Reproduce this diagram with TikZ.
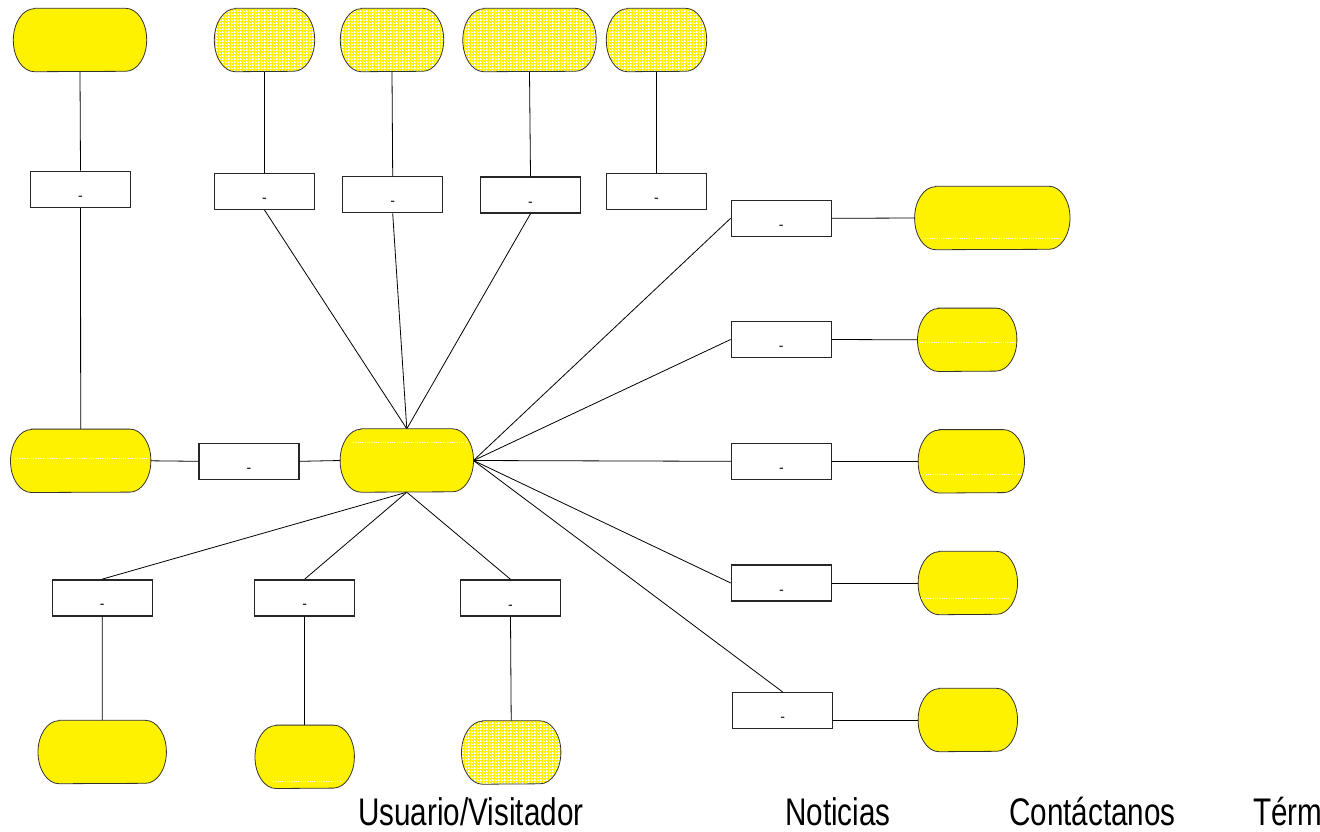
\documentclass[tikz,border=0pt]{standalone}
\usepackage{fontspec}
\setmainfont{Liberation Sans}
\newfontfamily\capfont{Liberation Sans}[FakeStretch=0.77]
\usetikzlibrary{patterns}

% fine white dot mesh laid over the yellow fill
\pgfdeclarepatternformonly{meshdots}{\pgfpointorigin}{\pgfpoint{3pt}{3pt}}{\pgfpoint{3pt}{3pt}}{%
  \pgfpathrectangle{\pgfpointorigin}{\pgfpoint{1.1pt}{1.1pt}}%
  \pgfpathrectangle{\pgfpoint{1.5pt}{0pt}}{\pgfpoint{1.1pt}{1.1pt}}%
  \pgfpathrectangle{\pgfpoint{0pt}{1.5pt}}{\pgfpoint{1.1pt}{1.1pt}}%
  \pgfusepath{fill}}

% terminal outline with elliptic ends, drawn around an anchor node
\newcommand\capsule[2]{%
  \path[#1] ([xshift=21pt]#2.north west) -- ([xshift=-21pt]#2.north east)
    arc[start angle=90,end angle=-90,x radius=21pt,y radius=31.5pt]
    -- ([xshift=21pt]#2.south west)
    arc[start angle=270,end angle=90,x radius=21pt,y radius=31.5pt] -- cycle;}

% white box with its small dash label
\newcommand\tagbox[3]{%
  \node[tag] (#1) at (#2,#3) {};
  \node[minuslabel] (#1-t) at ([yshift=-11pt]#1.center) {-};}

\begin{document}
\begin{tikzpicture}[x=1pt,y=1pt,
  term/.style={rectangle,inner sep=0pt,minimum height=63pt,minimum width=#1},
  tag/.style={rectangle,draw=black!85,line width=1.4pt,fill=white,
    minimum width=100pt,minimum height=36pt,inner sep=0pt},
  minuslabel/.style={font=\fontsize{14}{14}\selectfont,anchor=base,inner sep=0pt},
  link/.style={draw=black,line width=0.8pt},
  plain/.style={draw=black!80,line width=0.8pt,fill=yellow},
  mesh/.style={draw=black!80,line width=0.8pt,preaction={fill=yellow},
    pattern=meshdots,pattern color=white},
  seam/.style={draw=white,line width=0.7pt,dash pattern=on 1pt off 1.3pt},
  caption/.style={font=\capfont\fontsize{38.5}{40}\selectfont,anchor=base west,inner sep=0pt}]

\useasboundingbox (0,0) rectangle (1320,-831);

% anchor nodes of the terminals
\node[term=133] (T1) at (80,-40) {};
\node[term=100] (T2) at (264.5,-40) {};
\node[term=103] (T3) at (392,-40) {};
\node[term=133] (T4) at (529.5,-40) {};
\node[term=100] (T5) at (656.5,-40) {};
\node[term=140] (M1) at (80.7,-460.8) {};
\node[term=133] (C) at (406.8,-460.5) {};
\node[term=128] (BE1) at (102.2,-752) {};
\node[term=99] (BE2) at (304.7,-756.8) {};
\node[term=99] (BE3) at (511.2,-752.5) {};
\node[term=155] (RE1) at (992.3,-218) {};
\node[term=99] (RE2) at (967.2,-339.8) {};
\node[term=106] (RE3) at (971.3,-461.3) {};
\node[term=99] (RE4) at (967.8,-583) {};
\node[term=99] (RE5) at (967.8,-720) {};

% boxes
\tagbox{B1}{80.5}{-189.2}
\tagbox{B2}{264.5}{-191.3}
\tagbox{B3}{392.7}{-194.7}
\tagbox{B4}{530.5}{-195}
\tagbox{B5}{656.5}{-191.3}
\tagbox{BM}{249}{-461.3}
\tagbox{BB1}{102.3}{-597.8}
\tagbox{BB2}{304.7}{-597.8}
\tagbox{BB3}{510.5}{-598}
\tagbox{R1}{781.3}{-218.3}
\tagbox{R2}{781.3}{-339.5}
\tagbox{R3}{781.5}{-461.3}
\tagbox{R4}{781.5}{-583}
\tagbox{R5}{782.7}{-710.7}

% connectors
\draw[link] (T1.south) -- (B1.north);
\draw[link] (B1.south) -- (M1.north);
\draw[link] (T2.south) -- (B2.north);
\draw[link] (T3.south) -- (B3.north);
\draw[link] (T4.south) -- (B4.north);
\draw[link] (T5.south) -- (B5.north);
\draw[link] (B2.south) -- (C.north);
\draw[link] (B3.south) -- (C.north);
\draw[link] (B4.south) -- (C.north);
\draw[link] (M1.east) -- (BM.west);
\draw[link] (BM.east) -- (C.west);
\draw[link] (C.south) -- (BB1.north);
\draw[link] (C.south) -- (BB2.north);
\draw[link] (C.south) -- (BB3.north);
\draw[link] (BB1.south) -- (BE1.north);
\draw[link] (BB2.south) -- (BE2.north);
\draw[link] (BB3.south) -- (BE3.north);
\draw[link] (C.east) -- (R1.west);
\draw[link] (C.east) -- (R2.west);
\draw[link] (C.east) -- (R3.west);
\draw[link] (C.east) -- (R4.west);
\draw[link] (C.east) -- (R5.north);
\draw[link] (R1.east) -- (RE1.west);
\draw[link] (R2.east) -- (RE2.west);
\draw[link] (R3.east) -- (RE3.west);
\draw[link] (R4.east) -- (RE4.west);
\draw[link] (R5.east |- RE5.west) -- (RE5.west);

% terminals
\capsule{plain}{T1}
\capsule{mesh}{T2}
\capsule{mesh}{T3}
\capsule{mesh}{T4}
\capsule{mesh}{T5}
\capsule{plain}{M1}
\capsule{plain}{C}
\capsule{plain}{BE1}
\capsule{plain}{BE2}
\capsule{mesh}{BE3}
\capsule{plain}{RE1}
\capsule{plain}{RE2}
\capsule{plain}{RE3}
\capsule{plain}{RE4}
\capsule{plain}{RE5}

% white dotted seams inside some terminals
\draw[seam] (15,-458) -- (148,-458);
\draw[seam] (353,-442) -- (467,-442);
\draw[seam] (925,-238) -- (1062,-238);
\draw[seam] (920,-342) -- (1015,-342);
\draw[seam] (921,-474) -- (1021,-474);
\draw[seam] (921,-598.3) -- (1010,-598.3);
\draw[seam] (273,-781.7) -- (340,-781.7);

% captions along the bottom
\node[caption] (cap1) at (358,-825) {Usuario/Visitador};
\node[caption] (cap2) at (785,-825) {Noticias};
\node[caption] (cap3) at (1009,-825) {Contáctanos};
\node[caption] (cap4) at (1253,-825) {Térm};
\end{tikzpicture}
\end{document}
